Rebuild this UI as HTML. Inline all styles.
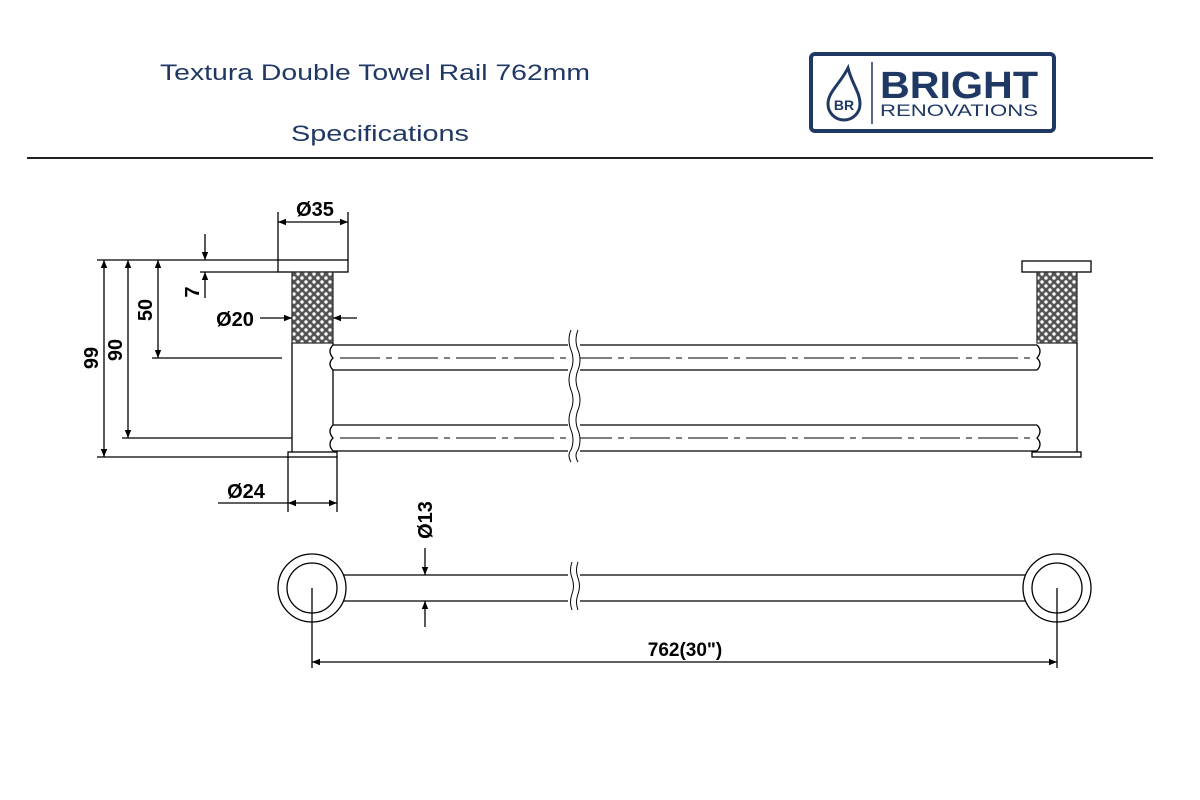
<!DOCTYPE html>
<html><head><meta charset="utf-8"><style>
html,body{margin:0;padding:0;background:#fff;width:1200px;height:800px;overflow:hidden}
</style></head><body>
<svg width="1200" height="800" viewBox="0 0 1200 800" xmlns="http://www.w3.org/2000/svg" font-family="Liberation Sans, sans-serif">
<defs>
<pattern id="kn" width="8" height="8" patternUnits="userSpaceOnUse">
<rect width="8" height="8" fill="#555"/>
<circle cx="2" cy="2" r="1.7" fill="#fff"/><circle cx="6" cy="6" r="1.7" fill="#fff"/>
</pattern>
<marker id="a" viewBox="0 0 10 10" refX="10" refY="5" markerWidth="15" markerHeight="8" markerUnits="userSpaceOnUse" orient="auto-start-reverse"><path d="M0,1 L10,5 L0,9 z" fill="#000"/></marker>
</defs>
<!-- header -->
<text x="160" y="80" font-size="22" fill="#1f3864" textLength="430" lengthAdjust="spacingAndGlyphs">Textura Double Towel Rail 762mm</text>
<text x="291" y="141" font-size="22" fill="#1f3864" textLength="178" lengthAdjust="spacingAndGlyphs">Specifications</text>
<line x1="27" y1="158" x2="1153" y2="158" stroke="#222" stroke-width="2"/>
<!-- logo -->
<rect x="811" y="54" width="243" height="77" rx="4" fill="#fff" stroke="#1f3864" stroke-width="4"/>
<line x1="872" y1="62" x2="872" y2="124" stroke="#1f3864" stroke-width="1.5"/>
<path d="M848,68 C840,84 828,92 828,104 A14,14 0 0 0 860,104 C860,92 852,84 848,68 Z" fill="none" stroke="#1f3864" stroke-width="3"/>
<text x="844" y="110" font-size="14" fill="#1f3864" text-anchor="middle" font-weight="bold">BR</text>
<text x="880" y="98" font-size="38" fill="#1f3864" font-weight="bold" textLength="158" lengthAdjust="spacingAndGlyphs">BRIGHT</text>
<text x="880" y="116" font-size="17" fill="#1f3864" textLength="158" lengthAdjust="spacingAndGlyphs">RENOVATIONS</text>

<g stroke="#000" fill="none" stroke-width="1.3">
<rect x="278" y="260" width="70" height="12"/>
<rect x="292" y="272" width="41" height="71" fill="url(#kn)" stroke="#333"/>
<line x1="292" y1="343" x2="292" y2="452"/>
<rect x="288" y="452" width="49" height="5"/>
<path d="M333,343 L333,345 Q327,351 333,358 Q327,364 333,370 L333,425 Q327,431 333,438 Q327,444 333,451 L333,452"/>
<line x1="333" y1="345" x2="1037" y2="345"/><line x1="333" y1="370" x2="1037" y2="370"/>
<line x1="333" y1="425" x2="1037" y2="425"/><line x1="333" y1="451" x2="1037" y2="451"/>
<line x1="340" y1="358" x2="1030" y2="358" stroke-width="0.9" stroke-dasharray="40,6,6,6"/>
<line x1="340" y1="438" x2="1030" y2="438" stroke-width="0.9" stroke-dasharray="40,6,6,6"/>
<path d="M1037,345 Q1043,351 1037,358 Q1043,364 1037,370 M1037,425 Q1043,431 1037,438 Q1043,444 1037,451"/>
<rect x="1022" y="261" width="69" height="11"/>
<rect x="1037" y="272" width="40" height="71" fill="url(#kn)" stroke="#333"/>
<line x1="1077" y1="343" x2="1077" y2="452"/>
<rect x="1032" y="452" width="49" height="5"/>
<rect x="568" y="335" width="12" height="130" fill="#fff" stroke="none"/>
<path d="M571,330 q-4,10 0,20 q4,10 0,20 q-4,10 0,20 q4,10 0,20 q-4,10 0,20 q4,10 0,20 q-4,5 0,12" stroke-width="1"/>
<path d="M578,330 q-4,10 0,20 q4,10 0,20 q-4,10 0,20 q4,10 0,20 q-4,10 0,20 q4,10 0,20 q-4,5 0,12" stroke-width="1"/>
<line x1="97" y1="260" x2="278" y2="260"/>
<line x1="152" y1="358" x2="282" y2="358"/>
<line x1="122" y1="438" x2="292" y2="438"/>
<line x1="97" y1="457" x2="288" y2="457"/>
<line x1="200" y1="272" x2="278" y2="272"/>
<line x1="278" y1="212" x2="278" y2="260"/><line x1="348" y1="212" x2="348" y2="260"/>
<line x1="288" y1="457" x2="288" y2="512"/><line x1="337" y1="457" x2="337" y2="512"/>
</g>
<g stroke="#000" stroke-width="1.3" fill="none">
<line x1="104" y1="260" x2="104" y2="457" marker-start="url(#a)" marker-end="url(#a)"/>
<line x1="128" y1="260" x2="128" y2="438" marker-start="url(#a)" marker-end="url(#a)"/>
<line x1="158" y1="260" x2="158" y2="358" marker-start="url(#a)" marker-end="url(#a)"/>
<line x1="205" y1="234" x2="205" y2="260" marker-end="url(#a)"/>
<line x1="205" y1="298" x2="205" y2="272" marker-end="url(#a)"/>
<line x1="278" y1="222" x2="348" y2="222" marker-start="url(#a)" marker-end="url(#a)"/>
<line x1="260" y1="318" x2="292" y2="318" marker-end="url(#a)"/>
<line x1="357" y1="318" x2="333" y2="318" marker-end="url(#a)"/>
<line x1="218" y1="503" x2="288" y2="503"/>
<line x1="288" y1="503" x2="337" y2="503" marker-start="url(#a)" marker-end="url(#a)"/>
</g>
<g font-weight="bold" font-size="20" fill="#000">
<text x="315" y="216" text-anchor="middle">Ø35</text>
<text x="235" y="326" text-anchor="middle">Ø20</text>
<text x="246" y="498" text-anchor="middle">Ø24</text>
<text transform="translate(98,358) rotate(-90)" text-anchor="middle">99</text>
<text transform="translate(122,350) rotate(-90)" text-anchor="middle">90</text>
<text transform="translate(152,310) rotate(-90)" text-anchor="middle">50</text>
<text transform="translate(199,292) rotate(-90)" text-anchor="middle">7</text>
<text transform="translate(432,520) rotate(-90)" text-anchor="middle">Ø13</text>
<text x="685" y="656" text-anchor="middle" font-size="19">762(30")</text>
</g>
<g stroke="#000" stroke-width="1.3" fill="none">
<line x1="340" y1="575" x2="1029" y2="575"/><line x1="340" y1="601" x2="1029" y2="601"/>
<circle cx="312" cy="588" r="34" fill="#fff"/><circle cx="312" cy="588" r="25"/>
<circle cx="1057" cy="588" r="34" fill="#fff"/><circle cx="1057" cy="588" r="25"/>
<rect x="568" y="565" width="12" height="45" fill="#fff" stroke="none"/>
<path d="M572,562 q-3,8 0,16 q3,8 0,16 q-3,8 0,16" stroke-width="1"/>
<path d="M578,562 q-3,8 0,16 q3,8 0,16 q-3,8 0,16" stroke-width="1"/>
<line x1="312" y1="588" x2="312" y2="668"/><line x1="1057" y1="588" x2="1057" y2="668"/>
<line x1="312" y1="662" x2="1057" y2="662" marker-start="url(#a)" marker-end="url(#a)"/>
<line x1="425" y1="548" x2="425" y2="575" marker-end="url(#a)"/>
<line x1="425" y1="627" x2="425" y2="601" marker-end="url(#a)"/>
</g>
</svg>
</body></html>
